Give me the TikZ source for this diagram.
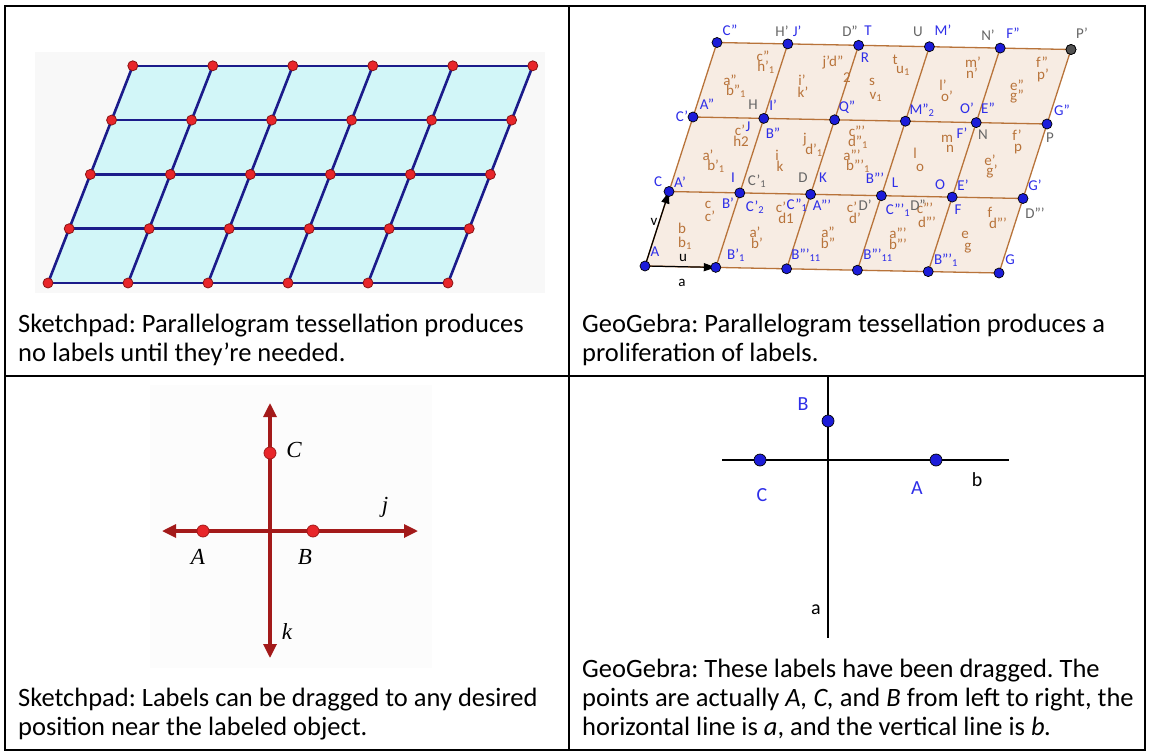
\documentclass[tikz,border=0pt]{standalone}
\usepackage{fontspec}
\setmainfont{Carlito}
\newfontfamily\sketchfont{Liberation Serif}
\usetikzlibrary{arrows.meta}
\definecolor{SPfill}{HTML}{D2F6F8}
\definecolor{SPnavy}{HTML}{1B1B8A}
\definecolor{SPred}{HTML}{E8262A}
\definecolor{SPdarkred}{HTML}{8A1414}
\definecolor{SPline}{HTML}{A31A1A}
\definecolor{SPback}{HTML}{F8F8F8}
\definecolor{GGfill}{HTML}{F7ECE3}
\definecolor{GGbrown}{HTML}{B8733A}
\definecolor{GGblue}{HTML}{1C1CD9}
\definecolor{GGbluetxt}{HTML}{2E2EE8}
\definecolor{GGgray}{HTML}{666666}
\frenchspacing

\begin{document}
\begin{tikzpicture}[x=1pt,y=-1pt,
    captext/.style={anchor=base west,inner sep=0pt,font=\fontsize{26.5}{29}\selectfont},
    reddot/.style={circle,draw=SPdarkred,line width=0.8pt,fill=SPred,inner sep=0pt,minimum size=10pt},
    bluedot/.style={circle,draw=black,line width=0.7pt,fill=GGblue,inner sep=0pt,minimum size=10pt},
    ggtxt/.style={inner sep=0pt,font=\fontsize{15}{15}\selectfont}]
  \useasboundingbox (0,0) rectangle (1150,752);

  % table rules
  \draw[line width=2pt] (5,6) rectangle (1145,750);
  \draw[line width=2pt] (569,6) -- (569,750);
  \draw[line width=2pt] (5,376) -- (1145,376);

  % Sketchpad tessellation
  \fill[SPback] (35,52) rectangle (545,293);
  \foreach \i in {0,...,5}
    \foreach \j in {0,...,4}
      \coordinate (s\i\j) at ({48+80*\i+21.2*\j},{283-54.3*\j});
  \fill[SPfill] (s00) -- (s50) -- (s54) -- (s04) -- cycle;
  \foreach \j in {0,...,4}
    \draw[SPnavy,line width=2.6pt] (s0\j) -- (s5\j);
  \foreach \i in {0,...,5}
    \draw[SPnavy,line width=2.6pt] (s\i0) -- (s\i4);
  \foreach \i in {0,...,5}
    \foreach \j in {0,...,4}
      \node[reddot] (sd\i\j) at (s\i\j) {};
  \node[captext] (cap1a) at (18,332) {Sketchpad: Parallelogram tessellation produces};
  \node[captext] (cap1b) at (18,361) {no labels until they’re needed.};

  % GeoGebra tessellation
  \foreach \i in {0,...,5}
    \foreach \j in {0,...,3}
      \coordinate (g\i\j) at ({645+70.8*\i+24*\j},{266+1.4*\i-74.5*\j});
  \fill[GGfill] (g00) -- (g50) -- (g53) -- (g03) -- cycle;
  \foreach \j in {0,...,3}
    \draw[GGbrown,line width=1.3pt] (g0\j) -- (g5\j);
  \foreach \i in {0,...,5}
    \draw[GGbrown,line width=1.3pt] (g\i0) -- (g\i3);
  \draw[line width=1.2pt,-{Triangle[length=12pt,width=8pt]}] (g00) -- (g10);
  \draw[line width=1.2pt,-{Triangle[length=12pt,width=8pt]}] (g00) -- (g01);
  \foreach \x/\y/\t [count=\n] in {
      763/56/{c''}, 766/67/{h'\textsubscript{1}}, 730/80/{a''}, 736/91/{b''\textsubscript{1}},
      802/80/{i'}, 803/92/{k'}, 833/62/{j'd''}, 847/78/{2}, 872/82/{s}, 876/97/{v\textsubscript{1}},
      895/60/{t}, 903/71/{u\textsubscript{1}}, 973/62/{m'}, 972/73/{n'}, 943/85/{l'}, 947/96/{o'},
      1042/62/{f''}, 1043/75/{p'}, 1017/85/{e''}, 1017/97/{g''},
      740/130/{c'}, 741/141/{h2}, 805/140/{j}, 814/150/{d'\textsubscript{1}},
      857/131/{c'''}, 858/142/{d''\textsubscript{1}}, 947/139/{m}, 950/149/{n},
      1017/135/{f'}, 1018/149/{p},
      708/155/{a'}, 716/166/{b'\textsubscript{1}}, 777/155/{i}, 780/166/{k},
      852/155/{a'''}, 858/166/{b'''\textsubscript{1}}, 915/153/{l}, 920/168/{o},
      990/160/{e'}, 992/171/{g'},
      708/205/{c}, 710/216/{c'}, 781/207/{c'}, 786/218/{d1}, 852/207/{c'}, 855/218/{d'},
      925/208/{c'''}, 927/222/{d'''}, 990/212/{f}, 998/223/{d'''},
      682/228/{b}, 685/243/{b\textsubscript{1}}, 755/232/{a'}, 757/243/{b'},
      828/232/{a''}, 828/243/{b''}, 898/233/{a'''}, 898/244/{b'''}, 965/235/{e}, 968/248/{g}}
    \node[ggtxt,GGbrown] (seg\n) at (\x,\y) {\t};
  \foreach \x/\y/\t [count=\n] in {
      782/31/{H'}, 850/31/{D''}, 918/32/{U}, 988/35/{N'}, 1082/33/{P'}, 753/105/{H},
      757/181/{C'\textsubscript{1}}, 803/178/{D}, 865/205/{D'}, 918/205/{D''}, 983/135/{N},
      1050/138/{P}, 1035/213/{D'''}}
    \node[ggtxt,GGgray] (gname\n) at (\x,\y) {\t};
  \foreach \x/\y/\t [count=\n] in {
      730/30/{C''}, 797/31/{J'}, 868/31/{T}, 943/30/{M'}, 1013/33/{F''}, 865/58/{R},
      707/104/{A''}, 682/116/{C'}, 773/105/{I'}, 847/107/{Q''}, 922/110/{M''\textsubscript{2}},
      967/108/{O'}, 988/108/{E''}, 1062/110/{G''}, 748/127/{J}, 773/133/{B''}, 962/133/{F'},
      658/182/{C}, 680/182/{A'}, 733/178/{I}, 823/178/{K}, 875/178/{B'''}, 895/183/{L},
      940/185/{O}, 963/185/{E'}, 1035/185/{G'}, 728/203/{B'}, 755/207/{C'\textsubscript{2}},
      797/205/{C''\textsubscript{1}}, 822/205/{A'''}, 898/210/{C'''\textsubscript{1}}, 958/210/{F},
      655/252/{A}, 736/255/{B'\textsubscript{1}}, 806/255/{B'''\textsubscript{11}},
      878/255/{B'''\textsubscript{11}}, 946/260/{B'''\textsubscript{1}}, 1010/260/{G}}
    \node[ggtxt,GGbluetxt] (pname\n) at (\x,\y) {\t};
  \node[ggtxt] (vlab) at (654,222) {v};
  \node[ggtxt] (ulab) at (683,258) {u};
  \node[ggtxt] (alab) at (682,283) {a};
  \foreach \i in {0,...,5}
    \foreach \j in {0,...,3}
      \node[bluedot] (gd\i\j) at (g\i\j) {};
  \node[bluedot,fill=GGgray!80!black] (gdP) at (g53) {};
  \node[captext] (cap2a) at (582,332) {GeoGebra: Parallelogram tessellation produces a};
  \node[captext] (cap2b) at (582,361) {proliferation of labels.};

  % Sketchpad lines j and k
  \fill[SPback!40!white] (150,385) rectangle (432,668);
  \coordinate (kTop) at (270,403);
  \coordinate (kBot) at (270,658);
  \coordinate (jLeft) at (162,531);
  \coordinate (jRight) at (418,531);
  \draw[SPline,line width=3.2pt,{Triangle[length=14pt,width=13pt]}-{Triangle[length=14pt,width=13pt]}] (kBot) -- (kTop);
  \draw[SPline,line width=3.2pt,{Triangle[length=14pt,width=13pt]}-{Triangle[length=14pt,width=13pt]}] (jLeft) -- (jRight);
  \node[reddot,minimum size=12pt,draw=SPline] (ptC) at (270,453) {};
  \node[reddot,minimum size=12pt,draw=SPline] (ptA) at (203,531) {};
  \node[reddot,minimum size=12pt,draw=SPline] (ptB) at (313,531) {};
  \begin{scope}[every node/.style={font=\sketchfont\itshape\fontsize{23}{23}\selectfont,inner sep=0pt}]
    \node (labC) at (294,450) {C};
    \node (labj) at (385,507) {j};
    \node (labA) at (198,557) {A};
    \node (labB) at (305,557) {B};
    \node (labk) at (287,632) {k};
  \end{scope}
  \node[captext] (cap3a) at (18,706) {Sketchpad: Labels can be dragged to any desired};
  \node[captext] (cap3b) at (18,735) {position near the labeled object.};

  % GeoGebra dragged labels
  \coordinate (aTop) at (828,377);
  \coordinate (aBot) at (828,638);
  \coordinate (bLeft) at (722,460);
  \coordinate (bRight) at (1009,460);
  \draw[line width=1.2pt] (aTop) -- (aBot);
  \draw[line width=1.2pt] (bLeft) -- (bRight);
  \node[bluedot,minimum size=12pt] (dotB) at (828,421) {};
  \node[bluedot,minimum size=12pt] (dotC) at (760,460) {};
  \node[bluedot,minimum size=12pt] (dotA) at (936,460) {};
  \begin{scope}[every node/.style={font=\fontsize{20}{20}\selectfont,inner sep=0pt}]
    \node[GGbluetxt] (nameB) at (803,404) {B};
    \node[GGbluetxt] (nameC) at (762,495) {C};
    \node[GGbluetxt] (nameA) at (917,488) {A};
    \node (nameb) at (977,480) {b};
    \node (namea) at (816,610) {a};
  \end{scope}
  \node[captext] (cap4a) at (582,677) {GeoGebra: These labels have been dragged. The};
  \node[captext] (cap4b) at (582,706) {points are actually \textit{A, C,} and \textit{B} from left to right, the};
  \node[captext] (cap4c) at (582,735) {horizontal line is \textit{a}, and the vertical line is \textit{b.}};
\end{tikzpicture}
\end{document}
